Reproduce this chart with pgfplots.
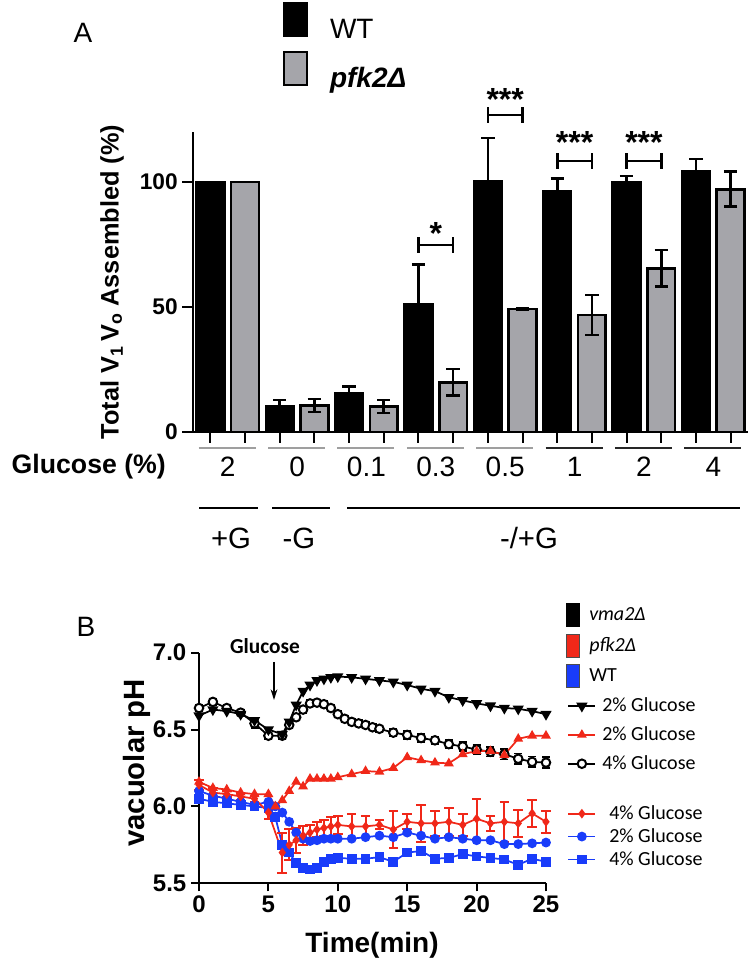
\documentclass[border=0pt]{standalone}
\usepackage{fontspec}
\setmainfont{Liberation Sans}
\newfontfamily\calfont{Carlito}
\usepackage{pgfplots}
\pgfplotsset{compat=1.18}
\usetikzlibrary{arrows.meta}
\newlength\px \setlength\px{0.75pt}
\definecolor{barg}{RGB}{165,165,170}
\definecolor{pred}{RGB}{240,40,25}
\definecolor{pblue}{RGB}{25,60,250}
\pgfplotsset{
 vtwo/.style={black, line width=1.3pt, mark=triangle*, mark size=3.6pt, mark options={rotate=180, solid}},
 ptwo/.style={pred, line width=1.3pt, mark=triangle*, mark size=3pt, mark options={solid}},
 vfour/.style={black, line width=1.3pt, mark=*, mark size=3.2pt, mark options={fill=white, line width=1.5pt, solid}},
 pfour/.style={pred, line width=1.3pt, mark=diamond*, mark size=2.6pt, mark options={solid}},
 wtwo/.style={pblue, line width=1.3pt, mark=*, mark size=3pt, mark options={solid}},
 wfour/.style={pblue, line width=1.3pt, mark=square*, mark size=3pt, mark options={solid}},
 tallimg/.style={legend image code/.code={\draw[mark repeat=2,mark phase=2,##1] plot coordinates {(1.5pt,0pt) (11.625pt,0pt) (21.75pt,0pt)}; \path[draw=none] (0pt,-8.2pt) -- (0pt,8.2pt);}},
}
\begin{document}
\begin{tikzpicture}[x=0.75pt,y=0.75pt]
\path[use as bounding box] (0,0) rectangle (750,960);

% ---------------- Panel A ----------------
\begin{axis}[
 at={(144.75pt,396pt)}, anchor=south west,
 scale only axis, width=416.25pt, height=225pt,
 xmin=-0.5, xmax=7.5, ymin=0, ymax=120,
 axis x line*=bottom, axis y line*=left,
 axis line style={line width=1.5pt},
 clip=false,
 ytick={0,50,100},
 xtick={-0.25,0.25,0.75,1.25,1.75,2.25,2.75,3.25,3.75,4.25,4.75,5.25,5.75,6.25,6.75,7.25},
 xticklabels={},
 tick align=outside, major tick length=8pt,
 tick style={line width=1.5pt, black},
 tick label style={font=\fontsize{17}{17}\selectfont\bfseries},
 /pgf/number format/assume math mode=true,
 ylabel={Total V\textsubscript{1}\,V\textsubscript{o} Assembled (\%)},
 every axis y label/.style={at={(axis description cs:-0.146,0.5)}, rotate=90, anchor=center, font=\fontsize{19}{19}\selectfont\bfseries},
 legend style={at={(0.1622,1.4333)}, anchor=north west, draw=none, fill=none, inner sep=0pt, outer sep=0pt,
   row sep=7.9pt, column sep=16.5pt, nodes={inner sep=0pt, outer sep=0pt},
   font=\fontsize{21}{21}\selectfont},
 legend cell align=left,
]
\addplot[ybar, bar width=0.4, bar shift=0pt, fill=black, draw=black, line width=2pt,
  legend image code/.code={\draw[fill=black, draw=black, line width=1.5pt] (0pt,-4.9pt) rectangle (17.25pt,19.9pt);},
  error bars/.cd, y dir=plus, y explicit,
  error bar style={line width=2pt, black},
  error mark options={rotate=90, line width=2pt, mark size=5pt, black}]
coordinates {
(-0.25,100) +- (0,0)
(0.75,10.4) +- (0,2.4)
(1.75,15.5) +- (0,2.7)
(2.75,51.2) +- (0,15.7)
(3.75,100.1) +- (0,17.5)
(4.75,96.1) +- (0,5.4)
(5.75,99.7) +- (0,2.7)
(6.75,104.4) +- (0,4.8)
};
\addlegendentry{WT}
\addplot[ybar, bar width=0.4, bar shift=0pt, fill=barg, draw=black, line width=2pt,
  legend image code/.code={\draw[fill=barg, draw=black, line width=1.5pt] (0pt,-4.9pt) rectangle (17.25pt,19.9pt);},
  error bars/.cd, y dir=both, y explicit,
  error bar style={line width=2pt, black},
  error mark options={rotate=90, line width=2pt, mark size=5pt, black}]
coordinates {
(0.25,100) +- (0,0)
(1.25,10.6) +- (0,2.6)
(2.25,10.2) +- (0,2.6)
(3.25,19.9) +- (0,5.3)
(4.25,49.2) +- (0,0.4)
(5.25,46.8) +- (0,8.0)
(6.25,65.5) +- (0,7.3)
(7.25,97.1) +- (0,7.0)
};
\addlegendentry{\textbf{\textit{pfk2Δ}}}
% significance brackets
\draw[line width=2pt] (axis cs:2.75,74.8) -- (axis cs:3.25,74.8)
  (axis cs:2.75,71.6) -- (axis cs:2.75,78) (axis cs:3.25,71.6) -- (axis cs:3.25,78);
\draw[line width=2pt] (axis cs:3.75,126.8) -- (axis cs:4.25,126.8)
  (axis cs:3.75,123.6) -- (axis cs:3.75,130) (axis cs:4.25,123.6) -- (axis cs:4.25,130);
\draw[line width=2pt] (axis cs:4.75,108.4) -- (axis cs:5.25,108.4)
  (axis cs:4.75,105.2) -- (axis cs:4.75,111.6) (axis cs:5.25,105.2) -- (axis cs:5.25,111.6);
\draw[line width=2pt] (axis cs:5.75,108.4) -- (axis cs:6.25,108.4)
  (axis cs:5.75,105.2) -- (axis cs:5.75,111.6) (axis cs:6.25,105.2) -- (axis cs:6.25,111.6);
\node[font=\fontsize{24}{24}\selectfont\bfseries] at (axis cs:3,79.2) {*};
\node[font=\fontsize{24}{24}\selectfont\bfseries] at (axis cs:4,132.8) {***};
\node[font=\fontsize{24}{24}\selectfont\bfseries] at (axis cs:5,115.6) {***};
\node[font=\fontsize{24}{24}\selectfont\bfseries] at (axis cs:6,115.6) {***};
\end{axis}

% ---------------- Panel B ----------------
\begin{axis}[
 at={(149.25pt,57.525pt)}, anchor=south west,
 scale only axis, width=260.25pt, height=172.95pt,
 xmin=0, xmax=25, ymin=5.5, ymax=7.0,
 axis x line*=bottom, axis y line*=left,
 axis line style={line width=1.5pt},
 clip=false,
 xtick={0,5,10,15,20,25}, ytick={5.5,6.0,6.5,7.0},
 yticklabel style={/pgf/number format/.cd, fixed, fixed zerofill, precision=1},
 tick align=outside, major tick length=6pt,
 tick style={line width=1.5pt, black},
 tick label style={font=\fontsize{18}{18}\selectfont\bfseries},
 /pgf/number format/assume math mode=true,
 xlabel={Time(min)}, ylabel={vacuolar pH},
 every axis x label/.style={at={(axis description cs:0.4986,-0.2676)}, anchor=center, font=\fontsize{21}{21}\selectfont\bfseries},
 every axis y label/.style={at={(axis description cs:-0.1787,0.522)}, rotate=90, anchor=center, font=\fontsize{22}{22}\selectfont\bfseries},
 legend style={at={(1.0576,1.2155)}, anchor=north west, draw=none, fill=none, inner sep=0pt, outer sep=0pt,
   row sep=5.25pt, column sep=4.5pt, nodes={inner sep=0pt, outer sep=0pt},
   font=\calfont\fontsize{15}{15}\selectfont},
 legend cell align=left,
 legend image code/.code={\draw[mark repeat=2,mark phase=2,#1] plot coordinates {(1.5pt,0pt) (11.625pt,0pt) (21.75pt,0pt)};},
]
% WT 4%
\addplot[wfour, forget plot] coordinates {
(0,6.05)(1,6.03)(2,6.02)(3,6.01)(4,6.00)(5,5.99)(5.5,5.93)(6,5.75)(6.5,5.70)(7,5.63)(7.5,5.60)(8,5.59)(8.5,5.60)(9,5.64)(9.5,5.66)(10,5.665)(11,5.66)(12,5.66)(13,5.67)(14,5.64)(15,5.70)(16,5.71)(17,5.66)(18,5.665)(19,5.69)(20,5.675)(21,5.665)(22,5.655)(23,5.62)(24,5.66)(25,5.64)
};
% WT 2%
\addplot[wtwo, forget plot] coordinates {
(0,6.10)(1,6.07)(2,6.05)(3,6.03)(4,6.01)(5,6.03)(5.5,6.00)(6,5.96)(6.5,5.90)(7,5.83)(7.5,5.79)(8,5.775)(8.5,5.78)(9,5.79)(9.5,5.79)(10,5.79)(11,5.79)(12,5.80)(13,5.81)(14,5.80)(15,5.83)(16,5.81)(17,5.79)(18,5.80)(19,5.79)(20,5.78)(21,5.78)(22,5.755)(23,5.755)(24,5.76)(25,5.765)
};
% vma2 4%
\addplot[vfour, forget plot, error bars/.cd, y dir=both, y explicit,
  error bar style={line width=1.3pt, black}, error mark options={rotate=90, line width=1.3pt, mark size=3pt, black}]
coordinates {
(0,6.64) +- (0,0.02) (1,6.68) +- (0,0.02) (2,6.64) +- (0,0.015) (3,6.61) +- (0,0.015)
(4,6.54) +- (0,0.03) (5,6.46) +- (0,0.02) (6,6.46) +- (0,0.02) (6.5,6.53) +- (0,0.02)
(7,6.58) +- (0,0.02) (7.5,6.63) +- (0,0.02) (8,6.67) +- (0,0.02) (8.5,6.675) +- (0,0.02)
(9,6.665) +- (0,0.02) (9.5,6.64) +- (0,0.02) (10,6.60) +- (0,0.02) (10.5,6.57) +- (0,0.02)
(11,6.55) +- (0,0.02) (11.5,6.54) +- (0,0.02) (12,6.53) +- (0,0.02) (12.5,6.515) +- (0,0.02)
(13,6.505) +- (0,0.02) (14,6.48) +- (0,0.025) (15,6.465) +- (0,0.025) (16,6.445) +- (0,0.025)
(17,6.43) +- (0,0.025) (18,6.405) +- (0,0.025) (19,6.39) +- (0,0.03) (20,6.37) +- (0,0.03)
(21,6.355) +- (0,0.03) (22,6.34) +- (0,0.035) (23,6.31) +- (0,0.035) (24,6.29) +- (0,0.035)
(25,6.285) +- (0,0.035)
};
% pfk2 4%
\addplot[pfour, forget plot, error bars/.cd, y dir=both, y explicit,
  error bar style={line width=1.5pt, pred}, error mark options={rotate=90, line width=1.5pt, mark size=3.6pt, pred}]
coordinates {
(0,6.14) +- (0,0.03) (1,6.09) +- (0,0.03) (2,6.08) +- (0,0.02) (3,6.065) +- (0,0.02)
(4,6.05) +- (0,0.02) (5,5.96) +- (0,0.04) (6,5.70) +- (0,0.13) (6.5,5.75) +- (0,0.10)
(7,5.78) +- (0,0.08) (7.5,5.81) +- (0,0.06) (8,5.83) +- (0,0.05) (8.5,5.85) +- (0,0.05)
(9,5.86) +- (0,0.05) (9.5,5.87) +- (0,0.06) (10,5.88) +- (0,0.06) (11,5.87) +- (0,0.08)
(12,5.87) +- (0,0.07) (13,5.88) +- (0,0.03) (14,5.85) +- (0,0.12) (15,5.90) +- (0,0.05)
(16,5.89) +- (0,0.12) (17,5.89) +- (0,0.08) (18,5.90) +- (0,0.09) (19,5.88) +- (0,0.07)
(20,5.92) +- (0,0.13) (21,5.89) +- (0,0.05) (22,5.90) +- (0,0.13) (23,5.89) +- (0,0.09)
(24,5.955) +- (0,0.09) (25,5.90) +- (0,0.07)
};
% pfk2 2%
\addplot[ptwo, forget plot] coordinates {
(0,6.16)(1,6.12)(2,6.11)(3,6.09)(4,6.08)(5,6.08)(5.5,6.00)(6,6.04)(6.5,6.10)(7,6.16)(7.5,6.13)(8,6.18)(8.5,6.18)(9,6.18)(9.5,6.18)(10,6.19)(11,6.21)(12,6.23)(13,6.225)(14,6.25)(15,6.32)(16,6.30)(17,6.285)(18,6.28)(19,6.34)(20,6.36)(21,6.36)(22,6.335)(23,6.44)(24,6.46)(25,6.46)
};
% vma2 2%
\addplot[vtwo, forget plot] coordinates {
(0,6.59)(1,6.63)(2,6.62)(3,6.60)(4,6.56)(5,6.50)(6,6.47)(6.5,6.55)(7,6.66)(7.5,6.75)(8,6.79)(8.5,6.82)(9,6.83)(9.5,6.84)(10,6.845)(11,6.84)(12,6.83)(13,6.82)(14,6.81)(15,6.79)(16,6.765)(17,6.75)(18,6.71)(19,6.69)(20,6.67)(21,6.655)(22,6.64)(23,6.635)(24,6.62)(25,6.60)
};
% legend
\addlegendimage{legend image code/.code={\filldraw[fill=black, draw=black, line width=0.5pt] (0pt,-8.6pt) rectangle (9.75pt,8.6pt);}}
\addlegendentry{\hspace*{-13\px}\textit{vma2Δ}}
\addlegendimage{legend image code/.code={\filldraw[fill=pred, draw=black!70, line width=0.6pt] (0pt,-8.6pt) rectangle (9.75pt,8.6pt);}}
\addlegendentry{\hspace*{-13\px}\textit{pfk2Δ}}
\addlegendimage{legend image code/.code={\filldraw[fill=pblue, draw=black!70, line width=0.6pt] (0pt,-8.6pt) rectangle (9.75pt,8.6pt);}}
\addlegendentry{\hspace*{-13\px}WT}
\addlegendimage{vtwo, tallimg}
\addlegendentry{2\% Glucose}
\addlegendimage{ptwo, tallimg}
\addlegendentry{2\% Glucose}
\addlegendimage{vfour, tallimg}
\addlegendentry{4\% Glucose}
\addlegendimage{legend image code/.code={\path[draw=none] (0pt,-6.4pt) -- (0pt,6.4pt);}}
\addlegendentry{}
\addlegendimage{pfour}
\addlegendentry{\hspace*{7\px}4\% Glucose}
\addlegendimage{wtwo}
\addlegendentry{\hspace*{7\px}2\% Glucose}
\addlegendimage{wfour}
\addlegendentry{\hspace*{7\px}4\% Glucose}
\end{axis}

% ---------------- Annotations ----------------
\node[font=\fontsize{21}{21}\selectfont] at (83,927) {A};
\node[font=\fontsize{21}{21}\selectfont] at (86,333) {B};
% group underlines under the bars
\foreach \i in {0,1,2,3,4} {
  \pgfmathsetmacro\cx{227.7+69.375*\i}
  \draw[gray!75, line width=1.5pt] (\cx-29,512) -- (\cx+28,512);
}
\foreach \i in {5,6,7} {
  \pgfmathsetmacro\cx{227.7+69.375*\i}
  \draw[black!85, line width=1.5pt] (\cx-29,512) -- (\cx+28,512);
}
\node[anchor=west, font=\fontsize{20}{20}\selectfont\bfseries] at (7,493) {Glucose (\%)};
\foreach \i/\v in {0/2,1/0,2/0.1,3/0.3,4/0.5,5/1,6/2,7/4} {
  \pgfmathsetmacro\cx{227.7+69.375*\i}
  \node[font=\fontsize{21}{21}\selectfont] at (\cx,493) {\v};
}
\draw[black, line width=1.5pt] (199,452) -- (258,452) (272,452) -- (330,452) (347,452) -- (740,452);
\node[font=\fontsize{22}{22}\selectfont] at (231,422) {+G};
\node[font=\fontsize{22}{22}\selectfont] at (299,422) {-G};
\node[font=\fontsize{22}{22}\selectfont] at (529,422) {-/+G};
% glucose arrow in panel B
\node[font=\calfont\bfseries\fontsize{16}{16}\selectfont] at (265,314) {Glucose};
\draw[line width=1.2pt, -{Stealth[length=8pt,width=5pt]}] (274,298) -- (274,260);
\end{tikzpicture}
\end{document}
